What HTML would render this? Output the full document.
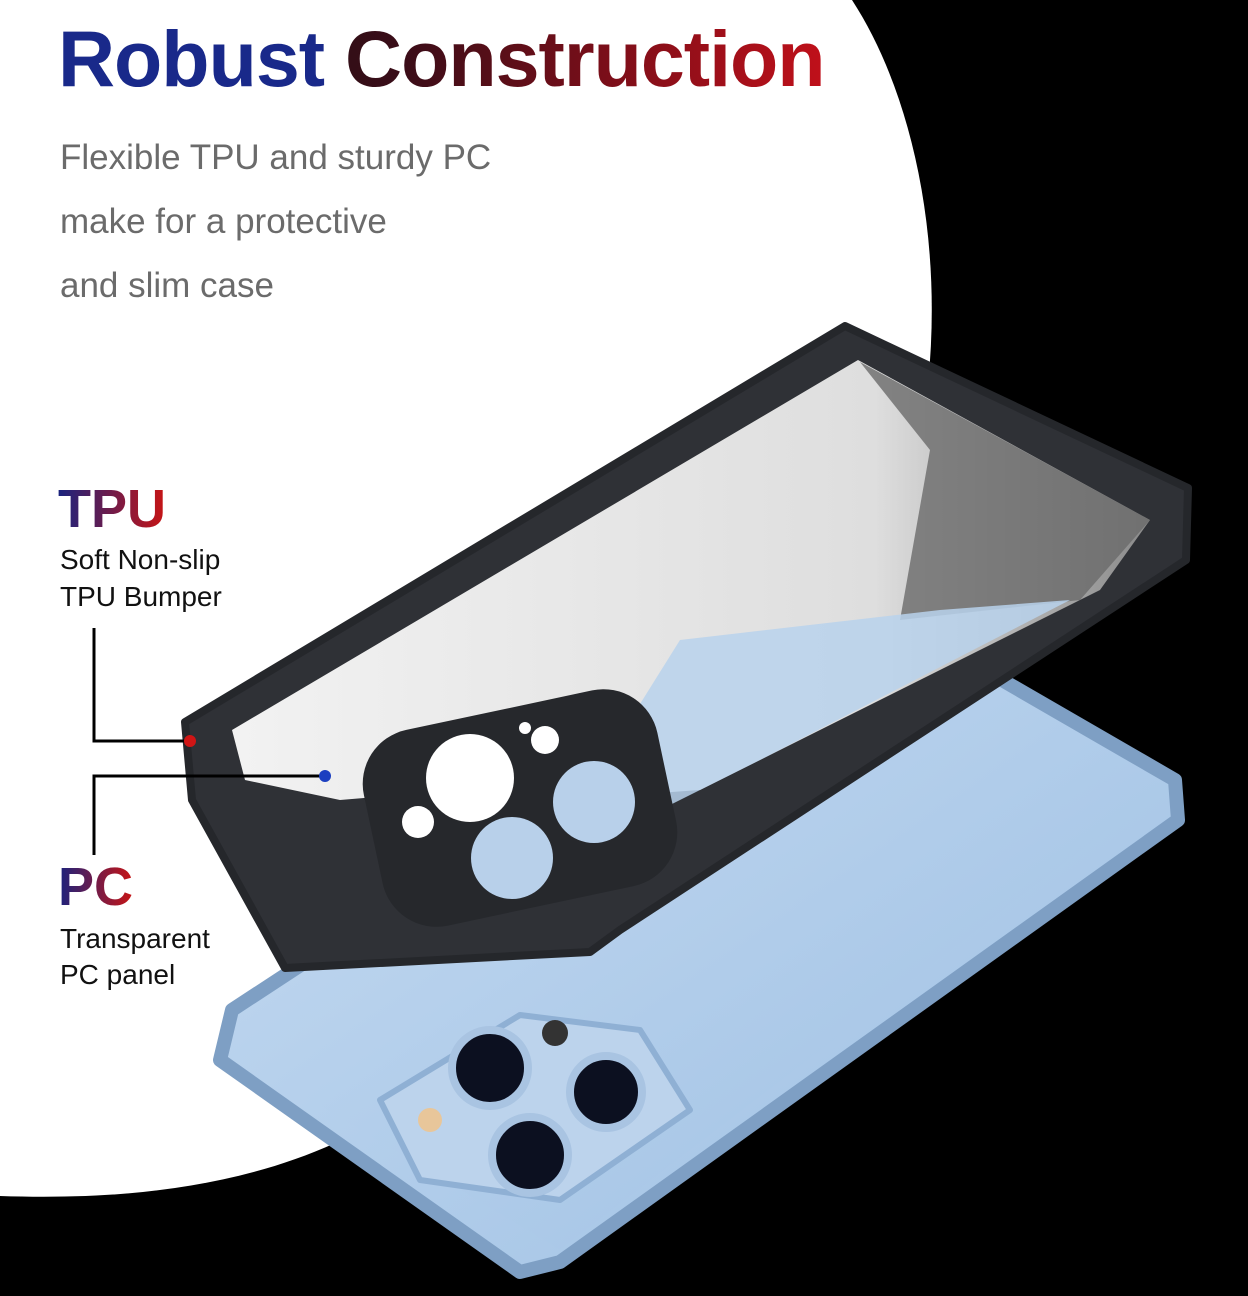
<!DOCTYPE html>
<html><head><meta charset="utf-8"><style>
html,body{margin:0;padding:0;width:1248px;height:1296px;overflow:hidden;background:#000;font-family:"Liberation Sans",sans-serif}
svg{display:block}
</style></head><body>
<svg width="1248" height="1296" viewBox="0 0 1248 1296" xmlns="http://www.w3.org/2000/svg">
<defs>
<linearGradient id="tg" x1="0" x2="1" y1="0" y2="0"><stop offset="0" stop-color="#111"/><stop offset="0.45" stop-color="#3a0d18"/><stop offset="1" stop-color="#c0101a"/></linearGradient>
<linearGradient id="tp" x1="0" x2="1"><stop offset="0" stop-color="#1a237e"/><stop offset="1" stop-color="#c81414"/></linearGradient>
<linearGradient id="ph" x1="0" y1="0" x2="1" y2="1"><stop offset="0" stop-color="#c7dcf2"/><stop offset="1" stop-color="#9dbfe3"/></linearGradient>
<linearGradient id="cl" x1="0" y1="0" x2="1" y2="0"><stop offset="0" stop-color="#f2f2f2"/><stop offset="0.7" stop-color="#dedede"/><stop offset="1" stop-color="#8a8a8a"/></linearGradient>
</defs>
<rect width="1248" height="1296" fill="#000"/>
<path d="M0 0 H852 C930 120 960 330 900 520 C820 760 560 1000 380 1120 C260 1190 120 1200 0 1196 Z" fill="#fff"/>
<polygon points="232,1010 860,598 1175,780 1178,820 560,1262 520,1272 220,1060" fill="url(#ph)" stroke="#7e9fc4" stroke-width="14" stroke-linejoin="round"/>
<polygon points="245,1012 860,612 1165,786 560,1250 235,1055" fill="url(#ph)"/>
<polygon points="380,1100 520,1015 640,1030 690,1110 560,1200 420,1180" fill="#bcd3ec" stroke="#8fb0d4" stroke-width="6" stroke-linejoin="round"/>
<circle cx="490" cy="1068" r="38" fill="#0c1020" stroke="#a9c4e2" stroke-width="8"/>
<circle cx="606" cy="1092" r="36" fill="#0c1020" stroke="#a9c4e2" stroke-width="8"/>
<circle cx="530" cy="1155" r="38" fill="#0c1020" stroke="#a9c4e2" stroke-width="8"/>
<circle cx="555" cy="1033" r="13" fill="#333"/>
<circle cx="430" cy="1120" r="12" fill="#e8c69a"/>
<polygon points="185,722 845,326 1188,488 1186,560 620,930 590,952 285,968 192,800" fill="#2f3136" stroke="#25272b" stroke-width="8" stroke-linejoin="round"/>
<polygon points="232,730 858,360 1150,520 1100,590 700,790 560,800 460,790 340,800 245,780" fill="url(#cl)"/>
<polygon points="860,362 1150,520 1080,600 900,620 930,450" fill="#6a6a6a" opacity="0.8"/>
<polygon points="680,640 940,610 1070,600 760,760 640,820 630,720" fill="#b9d2ec" opacity="0.85"/>
<rect x="370" y="708" width="300" height="200" rx="55" fill="#26282c" transform="rotate(-12 520 808)"/>
<circle cx="470" cy="778" r="44" fill="#fff"/>
<circle cx="594" cy="802" r="41" fill="#b8d0ea"/>
<circle cx="512" cy="858" r="41" fill="#b8d0ea"/>
<circle cx="545" cy="740" r="14" fill="#fff"/>
<circle cx="418" cy="822" r="16" fill="#fff"/>
<circle cx="525" cy="728" r="6" fill="#fff"/>
<text x="58" y="86" font-size="79" font-weight="bold" letter-spacing="-1" fill="#19298a">Robust <tspan fill="url(#tg)">Construction</tspan></text>
<g font-size="35" fill="#6b6b6b">
<text x="60" y="169">Flexible TPU and sturdy PC</text>
<text x="60" y="233">make for a protective</text>
<text x="60" y="297">and slim case</text>
</g>
<text x="58" y="527" font-size="54" font-weight="bold" fill="url(#tp)">TPU</text>
<text x="60" y="569" font-size="28" fill="#111">Soft Non-slip</text>
<text x="60" y="606" font-size="28" fill="#111">TPU Bumper</text>
<text x="58" y="905" font-size="54" font-weight="bold" fill="url(#tp)">PC</text>
<text x="60" y="948" font-size="28" fill="#111">Transparent</text>
<text x="60" y="984" font-size="28" fill="#111">PC panel</text>
<polyline points="94,628 94,741 190,741" fill="none" stroke="#000" stroke-width="3"/>
<polyline points="94,855 94,776 325,776" fill="none" stroke="#000" stroke-width="3"/>
<circle cx="190" cy="741" r="6" fill="#d01515"/>
<circle cx="325" cy="776" r="6" fill="#1c3fc0"/>
</svg>
</body></html>
